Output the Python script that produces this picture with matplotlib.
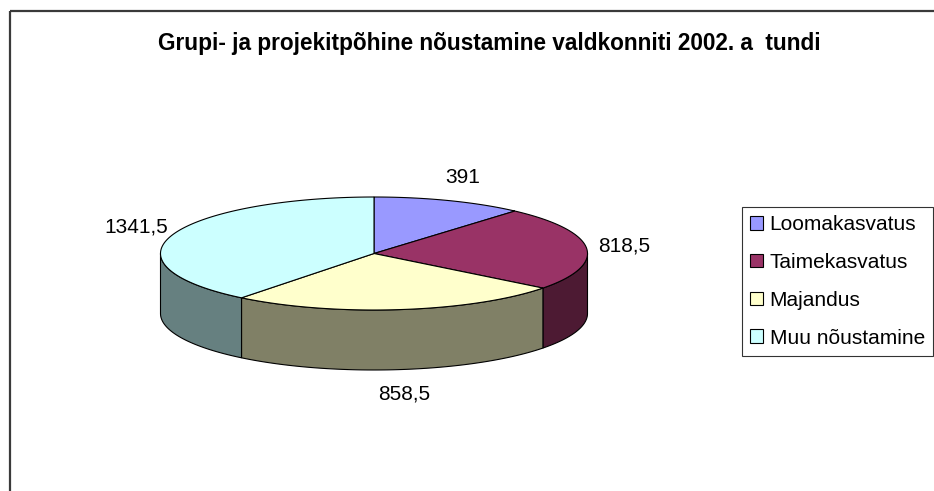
import numpy as np
import matplotlib
matplotlib.use("Agg")
import matplotlib.pyplot as plt
from matplotlib.patches import Polygon, Patch, Rectangle
from matplotlib.colors import to_rgb

# data
categories = ["Loomakasvatus", "Taimekasvatus", "Majandus", "Muu nõustamine"]
hours = [391, 818.5, 858.5, 1341.5]
colors = ["#9999FF", "#993366", "#FFFFCC", "#CCFFFF"]
title = "Grupi- ja projekitpõhine nõustamine valdkonniti 2002. a  tundi"

# layout of the 3d pie (pixel space)
W, H = 934, 491
cx, cy, rx, ry, depth = 374, 253.5, 213.5, 56.5, 60
plt.rcParams["font.family"] = ["Liberation Sans", "DejaVu Sans"]

fig = plt.figure(figsize=(W / 100, H / 100), dpi=100)
ax = fig.add_axes([0, 0, 1, 1])
ax.set_xlim(0, W); ax.set_ylim(H, 0); ax.axis("off")


def rim(t):
    t = np.radians(t)
    return cx + rx * np.sin(t), cy - ry * np.cos(t)


def dark(c):
    return tuple(v * 0.5 for v in to_rgb(c))


vals = np.array(hours, dtype=float)
edges = np.concatenate([[0], np.cumsum(vals) / vals.sum() * 360])

# side walls (front half only: 90..270 deg clockwise from top)
for i, c in enumerate(colors):
    a, b = max(edges[i], 90), min(edges[i + 1], 270)
    if b <= a:
        continue
    t = np.linspace(a, b, 120)
    x, y = rim(t)
    pts = np.column_stack([np.r_[x, x[::-1]], np.r_[y, y[::-1] + depth]])
    ax.add_patch(Polygon(pts, closed=True, fc=dark(c), ec="black", lw=0.8, joinstyle="miter"))

# top face wedges
for i, c in enumerate(colors):
    t = np.linspace(edges[i], edges[i + 1], 200)
    x, y = rim(t)
    pts = np.column_stack([np.r_[cx, x], np.r_[cy, y]])
    ax.add_patch(Polygon(pts, closed=True, fc=c, ec="black", lw=0.8, joinstyle="miter"))

# value labels
for i, v in enumerate(hours):
    mid = np.radians((edges[i] + edges[i + 1]) / 2)
    lx = cx + (rx + 38) * np.sin(mid)
    ly = cy - (ry + 25) * np.cos(mid) + depth * max(0, -np.cos(mid))
    ax.text(lx, ly, f"{v:g}".replace(".", ","), ha="center", va="center", fontsize=15)

ax.text(489, 43, title, ha="center", va="center", fontsize=16.3, fontweight="bold")

# chart frame (cropped on right and bottom)
ax.add_patch(Rectangle((9.5, 11), W, H, fill=False, ec="#3a3a3a", lw=1.6))

handles = [Patch(fc=c, ec="black", lw=0.8) for c in colors]
leg = ax.legend(handles, categories, loc="upper left",
                bbox_to_anchor=(742 / W, 1 - 207 / H), bbox_transform=fig.transFigure,
                fontsize=15, frameon=True, fancybox=False, borderaxespad=0,
                borderpad=0.4, labelspacing=0.9, handlelength=0.62, handleheight=0.62,
                handletextpad=0.3)
leg.get_frame().set_edgecolor("black")
leg.get_frame().set_linewidth(0.8)

fig.savefig("out.png", dpi=100)
